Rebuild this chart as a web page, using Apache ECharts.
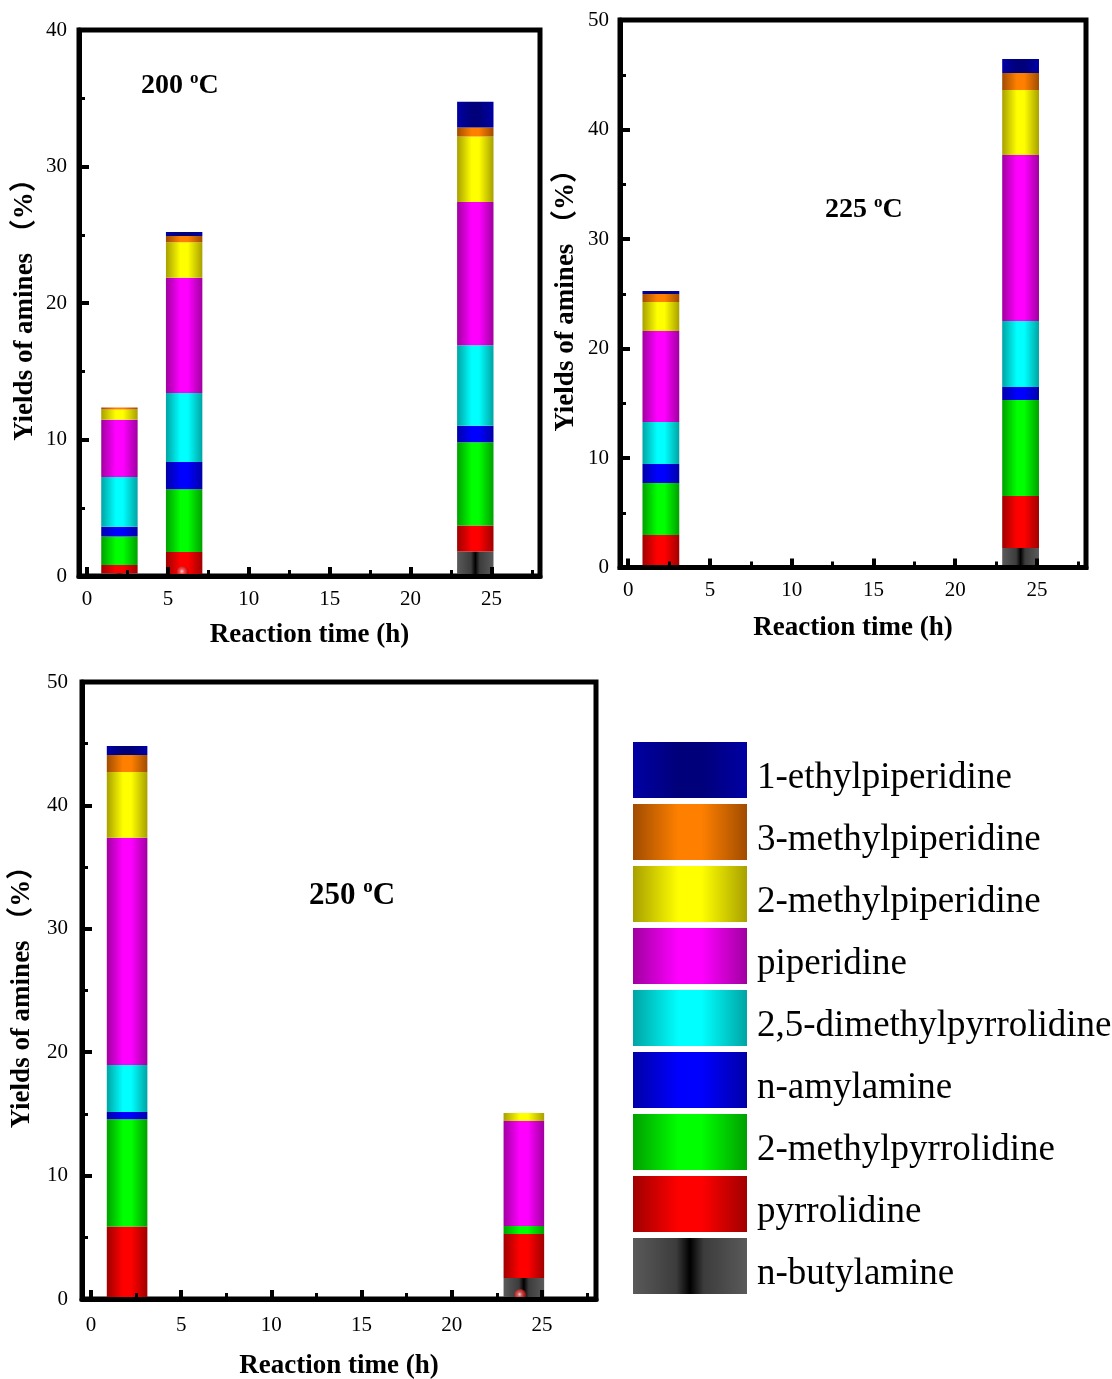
<!DOCTYPE html>
<html>
<head>
<meta charset="utf-8">
<script src="https://cdn.jsdelivr.net/npm/echarts@6/dist/echarts.min.js"></script>
<style>
  html, body { margin: 0; padding: 0; background: #fff; }
  #chart { width: 1112px; height: 1379px; }
</style>
</head>
<body>
<div id="chart"></div>
<script>
// Amine products, listed from the bottom of each stack upwards
const amines = [
  'n-butylamine', 'pyrrolidine', '2-methylpyrrolidine', 'n-amylamine',
  '2,5-dimethylpyrrolidine', 'piperidine', '2-methylpiperidine',
  '3-methylpiperidine', '1-ethylpiperidine'
];

// Reaction times (h) and yields (%) at each temperature; rows follow `amines`
const times200 = [2, 6, 24];
const yields200 = [
  [0.20, 0.15, 1.80],
  [0.60, 1.60, 1.90],
  [2.10, 4.60, 6.10],
  [0.70, 2.00, 1.20],
  [3.65, 5.05, 5.90],
  [4.20, 8.45, 10.50],
  [0.75, 2.60, 4.80],
  [0.15, 0.45, 0.65],
  [0.00, 0.30, 1.90]
];

const times225 = [2, 24];
const yields225 = [
  [0.23, 1.78],
  [2.74, 4.75],
  [4.75, 8.77],
  [1.73, 1.18],
  [3.84, 6.03],
  [8.31, 15.16],
  [2.65, 5.94],
  [0.73, 1.55],
  [0.27, 1.28]
];

const times250 = [2, 24];
const yields250 = [
  [0.15, 1.70],
  [5.73, 3.57],
  [8.68, 0.65],
  [0.59, 0.00],
  [3.81, 0.00],
  [18.41, 8.50],
  [5.33, 0.65],
  [1.38, 0.00],
  [0.73, 0.00]
];

// Small baseline markers
const dots200 = [[5.9, 0]];
const dots225 = [];
const dots250 = [[23.8, 0]];

// Axis ticks
const xTicks = [0, 5, 10, 15, 20, 25];
const xMinorTicks = [2.5, 7.5, 12.5, 17.5, 22.5, 27.5];
const yMax200 = 40, yMax225 = 50, yMax250 = 50;

const SERIF = "'Liberation Serif', 'Times New Roman', 'Noto Sans CJK SC', serif";
const X_MIN = -0.5, X_MAX = 28;
const BAR_SPAN_H = 2.25;   // bar width expressed in hours of the time axis

// Horizontal shading: darker edges, bright middle
function shade(edge, mid) {
  return {
    type: 'linear', x: 0, y: 0, x2: 1, y2: 0,
    colorStops: [
      { offset: 0, color: edge },
      { offset: 0.4, color: mid },
      { offset: 0.6, color: mid },
      { offset: 1, color: edge }
    ]
  };
}
const colors = {
  'n-butylamine': {
    type: 'linear', x: 0, y: 0, x2: 1, y2: 0,
    colorStops: [
      { offset: 0, color: '#5a5a5a' },
      { offset: 0.38, color: '#3c3c3c' },
      { offset: 0.5, color: '#000000' },
      { offset: 0.62, color: '#3c3c3c' },
      { offset: 1, color: '#5a5a5a' }
    ]
  },
  'pyrrolidine': shade('#a00000', '#ff0000'),
  '2-methylpyrrolidine': shade('#00a000', '#00ff00'),
  'n-amylamine': shade('#0000a8', '#0000ff'),
  '2,5-dimethylpyrrolidine': shade('#00a4a4', '#00ffff'),
  'piperidine': shade('#a000a0', '#ff00ff'),
  '2-methylpiperidine': shade('#a8a000', '#ffff00'),
  '3-methylpiperidine': shade('#a04c00', '#ff8000'),
  '1-ethylpiperidine': shade('#0000a4', '#00007a')
};

const panels = [
  { label: '200', times: times200, yields: yields200, yMax: yMax200, dots: dots200,
    box: { left: 79, top: 30, width: 461, height: 546 },
    xLabelMargin: 13, xNameGap: 46, yLabelMargin: 12, yNameGap: 40,
    tag: { left: 141, top: 70, size: 28 } },
  { label: '225', times: times225, yields: yields225, yMax: yMax225, dots: dots225,
    box: { left: 620, top: 20, width: 466, height: 547.5 },
    xLabelMargin: 12, xNameGap: 47, yLabelMargin: 11, yNameGap: 40,
    tag: { left: 825, top: 194, size: 28 } },
  { label: '250', times: times250, yields: yields250, yMax: yMax250, dots: dots250,
    box: { left: 82, top: 682, width: 514, height: 617 },
    xLabelMargin: 16, xNameGap: 54, yLabelMargin: 14, yNameGap: 46,
    tag: { left: 309, top: 878, size: 31 } }
];

// One stacked rectangle: value(0) = time, value(1) = lower edge, value(2) = upper edge
function stackedRect(params, api) {
  const t = api.value(0);
  const lo = api.coord([t, api.value(1)]);
  const hi = api.coord([t, api.value(2)]);
  const w = api.size([BAR_SPAN_H, 0])[0];
  return {
    type: 'rect',
    shape: { x: hi[0] - w / 2, y: hi[1], width: w, height: lo[1] - hi[1] },
    style: { fill: api.visual('color') }
  };
}

const grids = [], xAxes = [], yAxes = [], series = [], graphics = [];

panels.forEach((p, i) => {
  grids.push(Object.assign({
    show: true, borderColor: '#000', borderWidth: 5,
    backgroundColor: 'transparent', containLabel: false, outerBoundsMode: 'none'
  }, p.box));

  // main time axis with labels and major ticks
  xAxes.push({
    type: 'value', gridIndex: i, min: X_MIN, max: X_MAX, position: 'bottom', z: 6,
    axisLine: { show: true, onZero: false, lineStyle: { color: '#000', width: 5 } },
    axisTick: { show: true, inside: true, length: 9, customValues: xTicks,
                lineStyle: { color: '#000', width: 4 } },
    axisLabel: { customValues: xTicks, color: '#000', fontSize: 21, fontFamily: SERIF,
                 margin: p.xLabelMargin },
    splitLine: { show: false },
    name: 'Reaction time (h)', nameLocation: 'middle', nameGap: p.xNameGap,
    nameTextStyle: { color: '#000', fontSize: 27, fontWeight: 'bold', fontFamily: SERIF }
  });
  // companion axis carrying the short intermediate ticks
  xAxes.push({
    type: 'value', gridIndex: i, min: X_MIN, max: X_MAX, position: 'bottom', z: 6,
    axisLine: { show: false, onZero: false },
    axisTick: { show: true, inside: true, length: 6, customValues: xMinorTicks,
                lineStyle: { color: '#000', width: 3 } },
    axisLabel: { show: false },
    splitLine: { show: false }
  });

  yAxes.push({
    type: 'value', gridIndex: i, min: 0, max: p.yMax, interval: 10, z: 6,
    axisLine: { show: true, onZero: false, lineStyle: { color: '#000', width: 5 } },
    axisTick: { show: true, inside: true, length: 10, lineStyle: { color: '#000', width: 4 } },
    minorTick: { show: true, splitNumber: 2, length: 6, lineStyle: { color: '#000', width: 3 } },
    axisLabel: { color: '#000', fontSize: 21, fontFamily: SERIF, margin: p.yLabelMargin },
    splitLine: { show: false },
    minorSplitLine: { show: false },
    name: 'Yields of amines （%）', nameLocation: 'middle', nameGap: p.yNameGap,
    nameTextStyle: { color: '#000', fontSize: 27, fontWeight: 'bold', fontFamily: SERIF }
  });

  // running totals give each segment its lower and upper edge
  const base = p.times.map(() => 0);
  amines.forEach((name, k) => {
    const data = p.times.map((t, j) => {
      const lo = base[j];
      base[j] = lo + p.yields[k][j];
      return [t, lo, base[j]];
    });
    series.push({
      type: 'custom', name: name, xAxisIndex: 2 * i, yAxisIndex: i,
      renderItem: stackedRect,
      encode: { x: 0, y: [1, 2] },
      data: data,
      itemStyle: { color: colors[name] },
      emphasis: { disabled: true },
      z: 2
    });
  });

  if (p.dots.length) {
    series.push({
      type: 'scatter', name: 'marker', xAxisIndex: 2 * i, yAxisIndex: i,
      data: p.dots, symbolSize: 12, symbolOffset: [0, -4], z: 3,
      itemStyle: { color: {
        type: 'radial', x: 0.45, y: 0.45, r: 0.55,
        colorStops: [
          { offset: 0, color: '#ffffff' },
          { offset: 0.35, color: '#ff6060' },
          { offset: 1, color: '#a00000' }
        ]
      } },
      emphasis: { disabled: true }
    });
  }

  graphics.push({
    type: 'text', left: p.tag.left, top: p.tag.top, z: 10,
    style: {
      text: '{a|' + p.label + ' }{s|o}{a|C}',
      rich: {
        a: { fontSize: p.tag.size, fontWeight: 'bold', fontFamily: SERIF, fill: '#000',
             lineHeight: p.tag.size + 4 },
        s: { fontSize: Math.round(p.tag.size * 0.6), fontWeight: 'bold', fontFamily: SERIF,
             fill: '#000', verticalAlign: 'top', lineHeight: p.tag.size + 4 }
      }
    }
  });
});

const chart = echarts.init(document.getElementById('chart'), null, { renderer: 'canvas' });
chart.setOption({
  animation: false,
  backgroundColor: '#fff',
  grid: grids,
  xAxis: xAxes,
  yAxis: yAxes,
  series: series,
  graphic: graphics,
  legend: {
    orient: 'vertical', left: 633, top: 742, padding: 0,
    itemWidth: 114, itemHeight: 56, itemGap: 6, icon: 'rect',
    selectedMode: false, align: 'left',
    data: amines.slice().reverse(),
    // a thin empty first line lowers each name slightly against its swatch
    formatter: name => '{gap|}\n{t|' + name + '}',
    textStyle: {
      color: '#000', fontSize: 37, fontFamily: SERIF, padding: [0, 0, 0, 5],
      rich: {
        gap: { fontSize: 1, lineHeight: 16 },
        t: { fontSize: 37, fontFamily: SERIF, color: '#000', lineHeight: 42 }
      }
    }
  }
});
</script>
</body>
</html>
